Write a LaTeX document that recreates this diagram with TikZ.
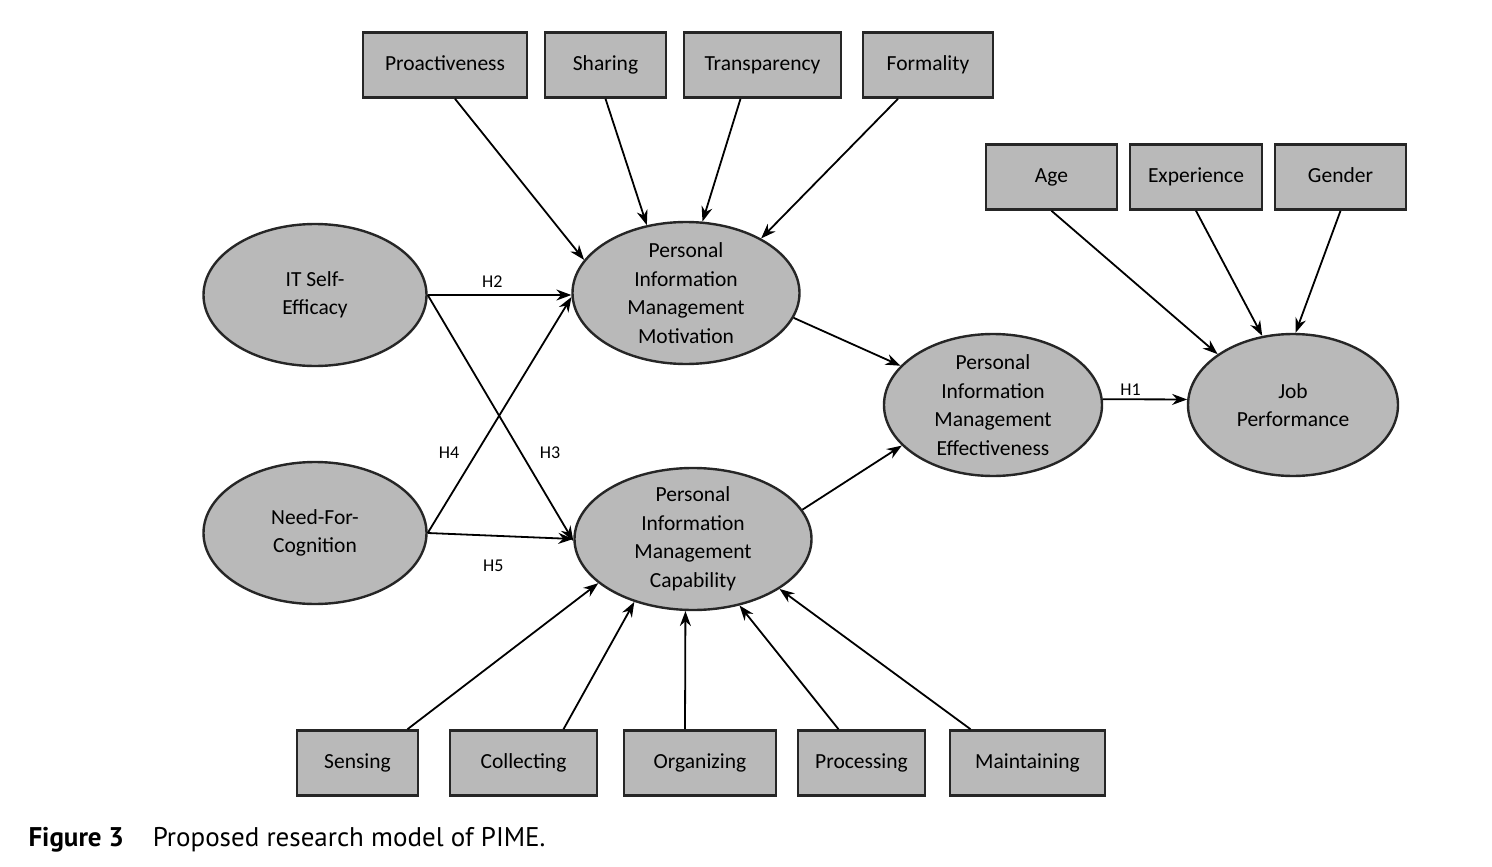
\documentclass[tikz,border=0pt]{standalone}
\usepackage{fontspec}
\setmainfont{Carlito}
\newfontfamily\capfont{PT Sans}
\usetikzlibrary{shapes.geometric,arrows.meta}
\definecolor{boxgray}{RGB}{185,185,185}
\tikzset{
  factor/.style={draw=black!85,line width=2.6pt,fill=boxgray,minimum height=65pt,inner sep=0pt,text height=15pt,text depth=4pt,font=\fontsize{21.5}{26}\selectfont},
  construct/.style={ellipse,draw=black!85,line width=2.4pt,fill=boxgray,minimum width=223pt,minimum height=142pt,inner sep=0pt},
  link/.style={line width=1.8pt,-{Stealth[length=15pt,width=11pt]}},
  hyp/.style={font=\fontsize{18}{20}\selectfont,inner sep=3pt}
}
\begin{document}
\begin{tikzpicture}[x=1pt,y=-1pt,every label/.style={align=center,font=\fontsize{21.5}{28.5}\selectfont}]
  \useasboundingbox (0,0) rectangle (1492,867);
  % antecedents of motivation
  \node[factor,minimum width=164pt] (pro) at (445,65) {Proactiveness};
  \node[factor,minimum width=121pt] (sha) at (605.5,65) {Sharing};
  \node[factor,minimum width=157pt] (tra) at (762.5,65) {Transparency};
  \node[factor,minimum width=130pt] (frm) at (928,65) {Formality};
  % controls
  \node[factor,minimum width=131pt] (age) at (1051.5,177) {Age};
  \node[factor,minimum width=132pt] (exp) at (1196,177) {Experience};
  \node[factor,minimum width=131pt] (gen) at (1340.5,177) {Gender};
  % antecedents of capability
  \node[factor,minimum width=121pt] (sen) at (357.5,763) {Sensing};
  \node[factor,minimum width=147pt] (col) at (523.5,763) {Collecting};
  \node[factor,minimum width=152pt] (org) at (700,763) {Organizing};
  \node[factor,minimum width=127pt] (prc) at (861.5,763) {Processing};
  \node[factor,minimum width=155pt] (mnt) at (1027.5,763) {Maintaining};
  % constructs
  \node[construct,label=center:{IT Self-\\Efficacy}] (itse) at (315,295) {};
  \node[construct,label=center:{Need-For-\\Cognition}] (nfc) at (315,533) {};
  \node[construct,minimum width=227pt,label=center:{Personal\\Information\\Management\\Motivation}] (motiv) at (686,293) {};
  \node[construct,minimum width=237pt,label=center:{Personal\\Information\\Management\\Capability}] (capab) at (693,539) {};
  \node[construct,minimum width=218pt,label=center:{Personal\\Information\\Management\\Effectiveness}] (eff) at (993,405) {};
  \node[construct,minimum width=210pt,label=center:{Job\\Performance}] (jp) at (1293,405) {};
  % arrows into motivation
  \draw[link] ([xshift=10pt]pro.south) -- (motiv.162);
  \draw[link] (sha.south) -- (motiv.120);
  \draw[link] ([xshift=-22pt]tra.south) -- (motiv.77);
  \draw[link] ([xshift=-30pt]frm.south) -- (motiv.36);
  % arrows into job performance
  \draw[link] (age.south) -- (jp.146);
  \draw[link] (exp.south) -- (jp.114);
  \draw[link] (gen.south) -- (jp.88);
  % arrows into capability
  \draw[link] ([xshift=50pt]sen.north) -- (capab.205);
  \draw[link] ([xshift=40pt]col.north) -- (capab.227);
  \draw[link] ([xshift=-15pt]org.north) -- (capab.264);
  \draw[link] ([xshift=-23pt]prc.north) -- (capab.305);
  \draw[link] ([xshift=-57pt]mnt.north) -- (capab.330);
  % hypotheses
  \draw[link] (itse.east) -- (motiv.181) node[hyp,above,pos=.45,yshift=4pt]{H2};
  \draw[link] (itse.east) -- (capab.181) node[hyp,right,pos=.64,xshift=15pt]{H3};
  \draw[link] (nfc.east) -- (motiv.182) node[hyp,left,pos=.33,xshift=-12pt,yshift=2pt]{H4};
  \draw[link] (nfc.east) -- (capab.west) node[hyp,below,pos=.45,yshift=-20pt]{H5};
  \draw[link] (motiv.347) -- (eff.157);
  \draw[link] (capab.15) -- (eff.204);
  \draw[link] (eff.3) -- (jp.177) node[hyp,above,pos=.33]{H1};
  % caption
  \node[anchor=base west,font=\capfont\fontsize{27}{30}\selectfont] (cap) at (25,846) {\textbf{Figure 3}\hspace{29pt}Proposed research model of PIME.};
\end{tikzpicture}
\end{document}
